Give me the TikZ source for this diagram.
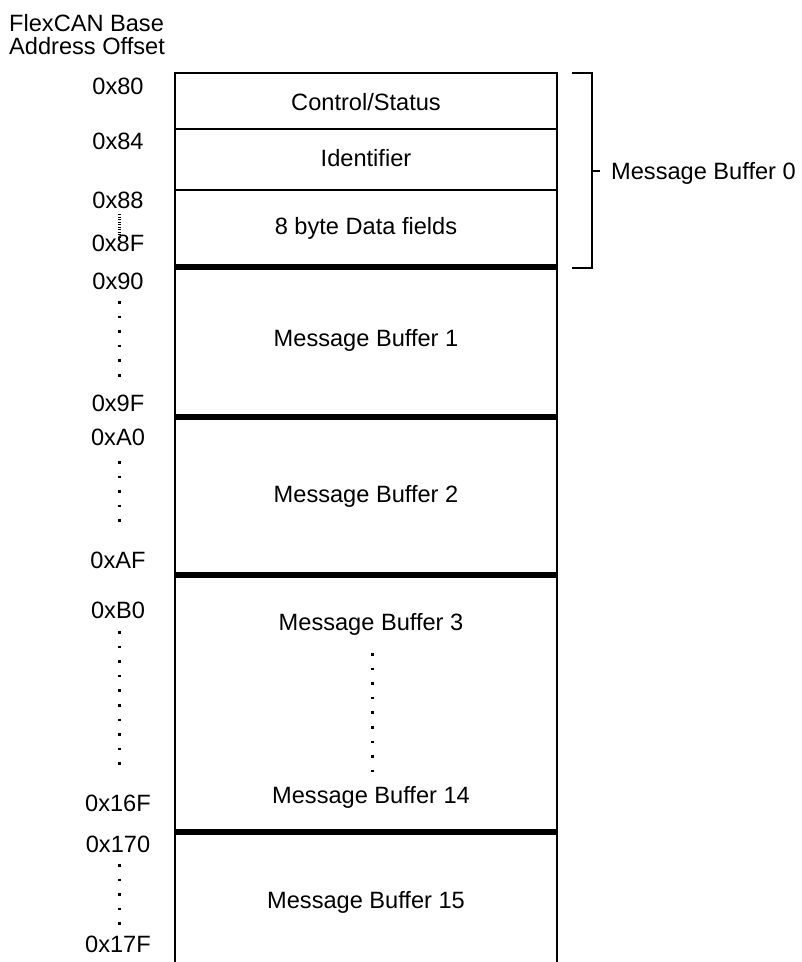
\documentclass[tikz,border=0pt]{standalone}
\usepackage{fontspec}
\setmainfont{Liberation Sans}
\begin{document}
\begin{tikzpicture}[x=1pt,y=-1pt,
  lbl/.style={font=\fontsize{23.6}{23.5}\selectfont, inner sep=0pt, anchor=center},
  thin/.style={line width=2.2pt},
  thick/.style={line width=6.5pt},
  dots/.style={line width=3pt, dash pattern=on 2.5pt off 12.1pt},
  densedots/.style={line width=3pt, dash pattern=on 1.2pt off 1.3pt}]
\useasboundingbox (0,0) rectangle (802,962);
% header
\node[lbl, anchor=north west, align=left] (hdr) at (9,14) {FlexCAN Base\\Address Offset};
% box outline
\coordinate (tl) at (175,73);
\coordinate (tr) at (557,73);
\coordinate (bl) at (175,962);
\coordinate (br) at (557,962);
\draw[thin] (bl) -- (tl) -- (tr) -- (br);
% separators
\draw[thin] (175,129) -- (557,129);
\draw[thin] (175,190) -- (557,190);
\draw[thick] (175,267) -- (557,267);
\draw[thick] (175,417) -- (557,417);
\draw[thick] (175,575) -- (557,575);
\draw[thick] (175,832) -- (557,832);
% cell texts
\node[lbl] (cs) at (366,102) {Control/Status};
\node[lbl] (id) at (366,158) {Identifier};
\node[lbl] (df) at (366,228) {8 byte Data fields};
\node[lbl] (mb1) at (366,340) {Message Buffer 1};
\node[lbl] (mb2) at (366,496) {Message Buffer 2};
\node[lbl] (mb3) at (371,624) {Message Buffer 3};
\node[lbl] (mb14) at (371,797) {Message Buffer 14};
\node[lbl] (mb15) at (366,902) {Message Buffer 15};
\draw[dots] (372,653) -- (372,775);
% bracket
\coordinate (bt) at (572,73);
\coordinate (bb) at (572,268);
\draw[thin] (bt) -- (592,73) -- (592,268) -- (bb);
\draw[thin] (592,171) -- (600,171);
\node[lbl, anchor=west] (mb0) at (611,173) {Message Buffer 0};
% address labels
\node[lbl] (a80) at (118,86) {0x80};
\node[lbl] (a84) at (118,141) {0x84};
\node[lbl] (a88) at (118,200) {0x88};
\node[lbl] (a8F) at (118,243) {0x8F};
\node[lbl] (a90) at (118,281) {0x90};
\node[lbl] (a9F) at (118,403) {0x9F};
\node[lbl] (aA0) at (118,437) {0xA0};
\node[lbl] (aAF) at (118,560) {0xAF};
\node[lbl] (aB0) at (118,610) {0xB0};
\node[lbl] (a16F) at (118,803) {0x16F};
\node[lbl] (a170) at (118,844) {0x170};
\node[lbl] (a17F) at (118,944) {0x17F};
\draw[densedots] (119,214) -- (119,239);
\draw[dots] (119,301) -- (119,378);
\draw[dots] (119,461) -- (119,523);
\draw[dots] (119,631) -- (119,775);
\draw[dots] (119,864) -- (119,927);
\end{tikzpicture}
\end{document}
